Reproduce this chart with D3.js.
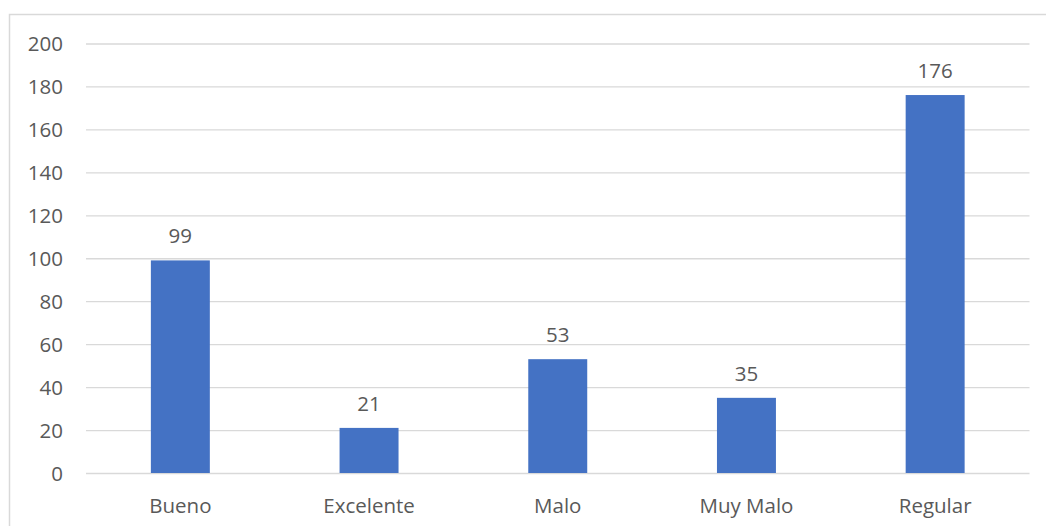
<!DOCTYPE html>
<html><head><meta charset="utf-8">
<script src="https://cdn.jsdelivr.net/npm/d3@7"></script>
<style>
html,body{margin:0;padding:0;background:#fff;}
svg{display:block;}
text{font-family:"Open Sans",sans-serif;fill:#595959;}
</style></head>
<body>
<svg id="chart" width="1046" height="526"></svg>
<script>
const categories = ["Bueno","Excelente","Malo","Muy Malo","Regular"];
const values = [99,21,53,35,176];
const yTicks = [0,20,40,60,80,100,120,140,160,180,200];

const svg = d3.select("#chart");
const W = 1046, H = 526;
const plot = {left:86, right:1029.5, top:43.5, bottom:473};

svg.append("rect").attr("x",9.5).attr("y",14.5).attr("width",W).attr("height",H)
  .attr("fill","none").attr("stroke","#d9d9d9").attr("stroke-width",1.5);

const x = d3.scaleBand().domain(categories).range([plot.left,plot.right]).paddingInner(0.6875).paddingOuter(0.34375);
const y = d3.scaleLinear().domain([0,200]).range([plot.bottom,plot.top]);

const yAxis = d3.axisLeft(y).tickValues(yTicks).tickSize(-(plot.right-plot.left)).tickPadding(23);
const gy = svg.append("g").attr("transform",`translate(${plot.left},0)`).call(yAxis);
gy.select(".domain").remove();
gy.selectAll(".tick line").attr("stroke","#d9d9d9").attr("stroke-width",1.3);
gy.selectAll(".tick text").attr("font-size",20.5).attr("fill","#595959").attr("dy","0.36em");

const xAxis = d3.axisBottom(x).tickSize(0).tickPadding(25);
const gx = svg.append("g").attr("transform",`translate(0,${plot.bottom})`).call(xAxis);
gx.select(".domain").remove();
gx.selectAll(".tick text").attr("font-size",20.5).attr("fill","#595959");

svg.append("g").selectAll("rect").data(values).join("rect")
  .attr("x",(d,i)=>x(categories[i]))
  .attr("width",x.bandwidth())
  .attr("y",d=>y(d))
  .attr("height",d=>y(0)-y(d))
  .attr("fill","#4472c4");

svg.append("g").selectAll("text").data(values).join("text")
  .attr("x",(d,i)=>x(categories[i])+x.bandwidth()/2)
  .attr("y",d=>y(d)-17)
  .attr("text-anchor","middle")
  .attr("font-size",20.5)
  .text(d=>d);
</script>
</body></html>
